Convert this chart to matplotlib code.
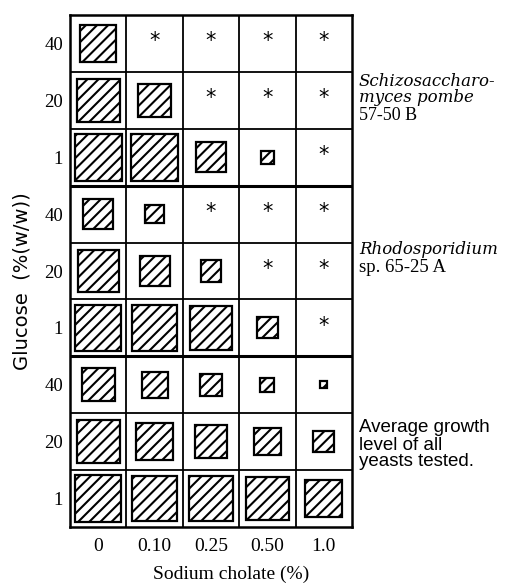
import numpy as np
import matplotlib.pyplot as plt
from matplotlib.patches import Rectangle

nan = np.nan

cholate = ["0", "0.10", "0.25", "0.50", "1.0"]
glucose = ["40", "20", "1"]

# side of the growth square, as a fraction of the cell; nan = no growth (*)
schizo = [
    [0.64, nan, nan, nan, nan],
    [0.76, 0.58, nan, nan, nan],
    [0.83, 0.83, 0.53, 0.23, nan],
]
rhodo = [
    [0.53, 0.33, nan, nan, nan],
    [0.73, 0.53, 0.37, nan, nan],
    [0.82, 0.80, 0.76, 0.37, nan],
]
average = [
    [0.58, 0.46, 0.38, 0.25, 0.13],
    [0.76, 0.65, 0.57, 0.48, 0.37],
    [0.82, 0.80, 0.79, 0.77, 0.66],
]
groups = [schizo, rhodo, average]

# right-hand labels: (text, style, family, size, y pixel of line centre)
side_labels = [
    ("Schizosaccharo-", "italic", "DejaVu Serif", 12, 82),
    ("myces pombe", "italic", "DejaVu Serif", 12, 98),
    ("57-50 B", "normal", "Liberation Serif", 13, 115),
    ("Rhodosporidium", "italic", "DejaVu Serif", 12, 250),
    ("sp. 65-25 A", "normal", "Liberation Serif", 13.5, 268),
    ("Average growth", "normal", "Liberation Sans", 13.5, 427),
    ("level of all", "normal", "Liberation Sans", 13.5, 445),
    ("yeasts tested.", "normal", "Liberation Sans", 13.5, 462),
]

plt.rcParams['font.family'] = ['Liberation Serif', 'DejaVu Serif']
plt.rcParams['hatch.linewidth'] = 1.5

fig = plt.figure(figsize=(5.23, 5.87), dpi=100)
ax = fig.add_axes([70 / 523, 1 - 527 / 587, 282 / 523, 512 / 587])
ncol = len(cholate)
nrow = len(groups) * len(glucose)
ax.set_xlim(0, ncol)
ax.set_ylim(0, nrow)

for g, data in enumerate(groups):
    for r, row in enumerate(data):
        yb = nrow - 1 - (g * 3 + r)
        for c, s in enumerate(row):
            cx, cy = c + 0.5, yb + 0.5
            if np.isnan(s):
                ax.text(cx, cy + 0.04, "*", ha="center", va="center",
                        fontsize=15, family="DejaVu Sans")
            else:
                ax.add_patch(Rectangle((cx - s / 2, cy - s / 2), s, s,
                                       facecolor="white", edgecolor="black",
                                       hatch="///", lw=1.6))

# grid
for c in range(1, ncol):
    ax.axvline(c, color="black", lw=1.3)
for r in range(1, nrow):
    ax.axhline(r, color="black", lw=2.2 if r % 3 == 0 else 1.3)
for sp in ax.spines.values():
    sp.set_linewidth(1.8)

ax.set_xticks(np.arange(ncol) + 0.5)
ax.set_xticklabels(cholate, fontsize=14)
ax.set_yticks(np.arange(nrow) + 0.5)
ax.set_yticklabels((glucose * len(groups))[::-1], fontsize=13.5)
ax.tick_params(length=0, pad=5)
ax.tick_params(axis="x", pad=8)
ax.set_xlabel("Sodium cholate (%)", fontsize=14)
ax.xaxis.set_label_coords(0.571, -0.075)
ax.set_ylabel("Glucose  (%(w/w))", fontsize=14, family="DejaVu Sans")
ax.yaxis.set_label_coords(-0.135, 0.48)

for txt, style, fam, size, ypix in side_labels:
    fig.text(359 / 523, 1 - ypix / 587, txt, ha="left", va="center",
             fontsize=size, style=style, family=fam)

fig.savefig("out.png", dpi=100)
